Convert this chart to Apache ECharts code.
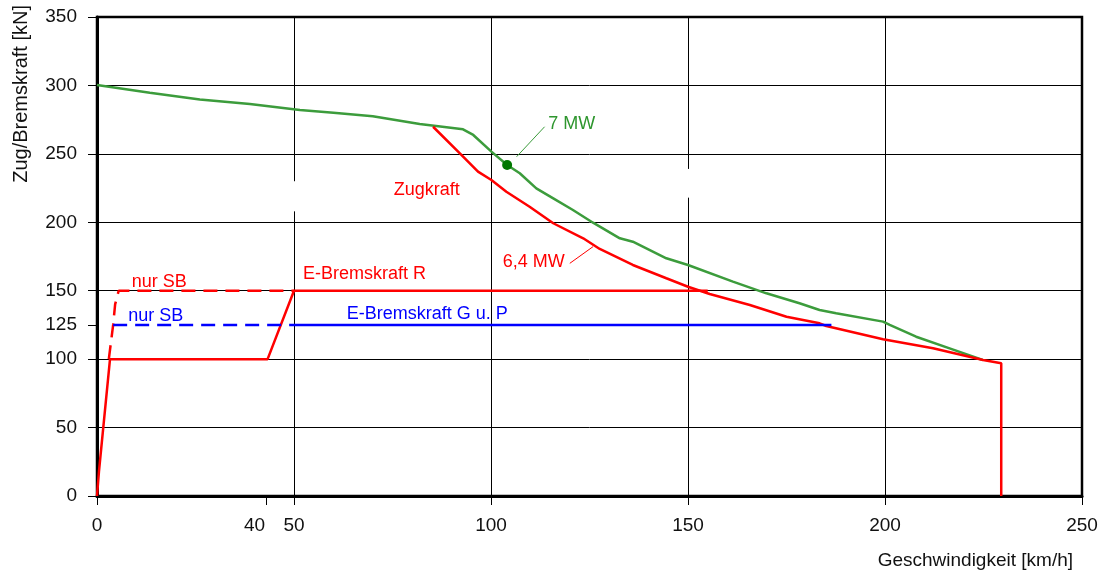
<!DOCTYPE html>
<html>
<head>
<meta charset="utf-8">
<script src="https://cdn.jsdelivr.net/npm/echarts@6/dist/echarts.min.js"></script>
<style>
html,body{margin:0;padding:0;background:#fff;}
#c{width:1112px;height:572px;}
</style>
</head>
<body>
<div id="c"></div>
<script>
// ---- data ----
const speedLabels = [0, 40, 50, 100, 150, 200, 250];
const speedExtraTicks = [43];
const forceLabels = [0, 50, 100, 125, 150, 200, 250, 300, 350];
const forceExtraTicks = [125];

// 7 MW traction curve [km/h, kN]
const traction7MW = [
  [0,300.3],[13.4,294.7],[26.1,289.8],[38.8,286.4],[51.5,282],[60,280],[70,277.5],
  [81.9,271.8],[92.9,267.9],[95.5,263.8],[100.1,251.6],[104.1,241.9],[107.3,235.8],
  [111.5,224.8],[115.8,217.5],[120.8,209],[125.9,199.7],[132.7,188.3],[136,185.8],
  [144.5,173.7],[150,168.8],[161.4,156.6],[169.9,148.1],[178.3,140.8],[183.4,135.9],
  [187.6,133.5],[199.5,127.4],[201.2,125],[207.9,116.4],[216.4,107.9],[224.8,99.4]
];
// Zugkraft 6,4 MW
const traction64MW = [
  [85.3,269.8],[92.1,250.4],[96.7,237],[100.1,230.9],[103.9,222.3],[109.8,211.4],
  [115.8,199.3],[123.4,188.3],[127.6,180.5],[136,168.8],[144.5,159.1],[150,152.9],
  [155.5,147.6],[165.7,139.6],[175,131],[183.4,126.2],[185.1,124.2],[199.5,114.5],
  [212.2,107.9],[224.9,99.4],[229.5,97],[229.5,0]
];
// E-Bremskraft R (solid) and "nur SB" (dashed)
const brakeR = [[0,0],[0.5,18],[3.3,100],[43.3,100],[50,150],[155,150]];
const brakeRSB = [[3.0,100],[4.1,125],[4.6,140],[5.5,150],[50,150]];
// E-Bremskraft G u. P (solid) and "nur SB" (dashed)
const brakeGP = [[50,125],[186.4,125]];
const brakeGPSB = [[4.1,125],[50,125]];
// marked point on 7 MW curve and leader lines
const point7MW = [[104.1,241.9]];
const leader7MW = [[106.5,247.9],[113.6,269.8]];
const leader64MW = [[120.0,170.0],[125.9,182.2]];
// annotation texts and anchors
const noteTexts = ['nur SB','E-Bremskraft R','nur SB','E-Bremskraft G u. P','Zugkraft','6,4 MW','7 MW'];
const noteAnchors = [[8.8,156.6],[52.3,162.2],[7.9,131.5],[63.4,133.3],[75.3,223.6],[103,170.6],[114.5,271.8]];
const noteGroups = ['red','red','blue','blue','red','red','green'];
// white gaps in vertical grid lines
const gridGaps = [[[49.7,208],[50.3,230]],[[149.7,218],[150.3,239]]];

// ---- styles ----
const RED = '#ff0000', BLUE = '#0000ff', GREEN = '#3c9c3c', DOT = '#007800';
const colorOf = {red: RED, blue: BLUE, green: '#2e962e'};
const FONT = "'Liberation Sans', Arial, sans-serif";

const chart = echarts.init(document.getElementById('c'), null, {renderer: 'canvas'});

function lineSeries(data, color, width, type, z) {
  return {
    type: 'line', data: data, showSymbol: false, symbol: 'none', silent: true,
    lineStyle: {color: color, width: width, type: type || 'solid'}, z: z || 2,
    clip: false
  };
}

const extraAxisBase = {
  type: 'value', axisLine: {show: false}, axisLabel: {show: false}, splitLine: {show: false}
};

const option = {
  animation: false,
  backgroundColor: '#fff',
  grid: {left: 97, right: 30, top: 17, bottom: 76, show: true, borderColor: '#000', borderWidth: 2.5, backgroundColor: 'transparent'},
  xAxis: [{
    type: 'value', min: 0, max: 250, interval: 50,
    axisLine: {show: true, lineStyle: {color: '#000', width: 3}},
    axisTick: {show: true, length: 9, lineStyle: {color: '#000', width: 1}},
    axisLabel: {color: '#111', fontFamily: FONT, fontSize: 19, margin: 20, customValues: speedLabels},
    splitLine: {show: true, lineStyle: {color: '#000', width: 1}}
  }, Object.assign({}, extraAxisBase, {
    min: 0, max: 250, position: 'bottom',
    axisTick: {show: true, length: 9, lineStyle: {color: '#000', width: 1}, customValues: speedExtraTicks}
  })],
  yAxis: [{
    type: 'value', min: 0, max: 350, interval: 50,
    axisLine: {show: true, lineStyle: {color: '#000', width: 3}},
    axisTick: {show: true, length: 9, lineStyle: {color: '#000', width: 1}},
    axisLabel: {color: '#111', fontFamily: FONT, fontSize: 19, margin: 20, customValues: forceLabels},
    splitLine: {show: true, lineStyle: {color: '#000', width: 1}}
  }, Object.assign({}, extraAxisBase, {
    min: 0, max: 350, position: 'left',
    axisTick: {show: true, length: 9, lineStyle: {color: '#000', width: 1}, customValues: forceExtraTicks}
  })],
  graphic: [
    {type: 'text', left: 11, top: 5, rotation: Math.PI / 2,
     style: {text: 'Zug/Bremskraft [kN]', font: "20px 'Liberation Sans', Arial, sans-serif", fill: '#111'}},
    {type: 'text', right: 39, top: 551,
     style: {text: 'Geschwindigkeit [km/h]', font: "19px 'Liberation Sans', Arial, sans-serif", fill: '#111'}}
  ],
  series: [
    Object.assign(lineSeries([], '#fff', 0), {
      markArea: {silent: true, itemStyle: {color: '#fff'},
        data: gridGaps.map(g => [{coord: g[0]}, {coord: g[1]}])}
    }),
    lineSeries(traction7MW, GREEN, 2.5, 'solid', 3),
    lineSeries(traction64MW, RED, 2.5, 'solid', 4),
    lineSeries(brakeR, RED, 2.5, 'solid', 4),
    lineSeries(brakeRSB, RED, 2.5, [14, 8], 4),
    lineSeries(brakeGPSB, BLUE, 2.5, [14, 8], 5),
    lineSeries(brakeGP, BLUE, 2.5, 'solid', 5),
    lineSeries(leader7MW, GREEN, 1, 'solid', 5),
    lineSeries(leader64MW, RED, 1, 'solid', 5),
    {type: 'scatter', data: point7MW, symbol: 'circle', symbolSize: 10, itemStyle: {color: DOT, opacity: 1}, z: 6, silent: true},
    {type: 'scatter', symbolSize: 0, silent: true, z: 7, itemStyle: {opacity: 1},
     data: noteTexts.map((t, i) => ({
       value: noteAnchors[i], name: t,
       label: {show: true, position: 'right', distance: 0, formatter: t,
               color: colorOf[noteGroups[i]], fontFamily: FONT, fontSize: 18}
     }))}
  ]
};
chart.setOption(option);
</script>
</body>
</html>
